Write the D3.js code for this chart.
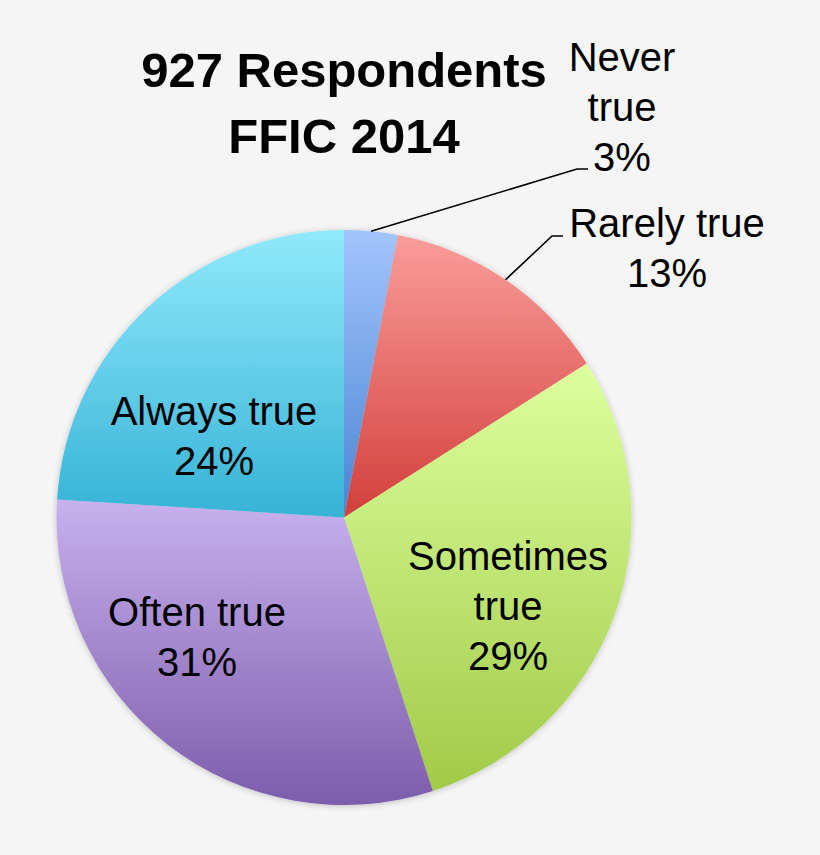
<!DOCTYPE html>
<html>
<head>
<meta charset="utf-8">
<script src="https://cdn.jsdelivr.net/npm/d3@7"></script>
<style>
  html, body { margin: 0; padding: 0; background: #f5f5f5; }
  svg { display: block; }
  text { font-family: "Liberation Sans", Arial, sans-serif; fill: #000; }
</style>
</head>
<body>
<div id="chart"></div>
<script>
// -------- data ---------- //
var categories = ["Never true", "Rarely true", "Sometimes true", "Often true", "Always true"];
var values = [3, 13, 29, 31, 24];
var topColors = ["#a2c5fc", "#fa9d9b", "#ddff9e", "#c7b1ee", "#91e9fc"];
var bottomColors = ["#4a84d4", "#d23f3b", "#a1ca48", "#7d5cab", "#36b3d6"];

// label lines (split category text) and their placement
var labelLines = [["Never", "true"], ["Rarely true"], ["Sometimes", "true"], ["Often true"], ["Always true"]];
var labelPos = [
  { x: 622, y: 71, outside: true, elbowX: 577, elbowY: 169, endX: 588 },
  { x: 667, y: 237, outside: true, elbowX: 552, elbowY: 236, endX: 563 },
  { x: 508, y: 570 },
  { x: 197, y: 626 },
  { x: 214, y: 425 }
];

var width = 820;
var height = 855;
var cx = 344, cy = 517.5, radius = 287.5;
var lineH = 50;

var svg = d3
  .select("#chart")
  .append("svg")
  .attr("width", width)
  .attr("height", height);

svg.append("rect").attr("width", width).attr("height", height).attr("fill", "#f5f5f5");

var defs = svg.append("defs");

var shadow = defs.append("filter")
  .attr("id", "shadow")
  .attr("x", "-10%").attr("y", "-10%")
  .attr("width", "120%").attr("height", "120%");
shadow.append("feDropShadow")
  .attr("dx", 0).attr("dy", 1)
  .attr("stdDeviation", 3)
  .attr("flood-color", "#000")
  .attr("flood-opacity", 0.22);

// vertical gradient per slice
categories.forEach(function(c, i) {
  var g = defs.append("linearGradient")
    .attr("id", "grad" + i)
    .attr("x1", 0).attr("y1", 0).attr("x2", 0).attr("y2", 1);
  g.append("stop").attr("offset", "0%").attr("stop-color", topColors[i]);
  g.append("stop").attr("offset", "100%").attr("stop-color", bottomColors[i]);
});

var data = categories.map(function(c, i) {
  return { name: c, value: values[i], i: i };
});

var pie = d3.pie().sort(null).value(function(d) { return d.value; });
var arcs = pie(data);

var arc = d3.arc().innerRadius(0).outerRadius(radius);

var g = svg.append("g").attr("transform", "translate(" + cx + "," + cy + ")");

g.append("g")
  .attr("filter", "url(#shadow)")
  .selectAll("path")
  .data(arcs)
  .join("path")
  .attr("fill", function(d) { return "url(#grad" + d.data.i + ")"; })
  .attr("d", arc);

// leader lines for the small slices
arcs.forEach(function(d, i) {
  var p = labelPos[i];
  if (!p.outside) return;
  var mid = (d.startAngle + d.endAngle) / 2;
  var sx = cx + radius * Math.sin(mid);
  var sy = cy - radius * Math.cos(mid);
  svg.append("polyline")
    .attr("points", [[sx, sy], [p.elbowX, p.elbowY], [p.endX, p.elbowY]].map(function(q) { return q.join(","); }).join(" "))
    .attr("fill", "none")
    .attr("stroke", "#000")
    .attr("stroke-width", 1.6);
});

// slice labels
arcs.forEach(function(d, i) {
  var p = labelPos[i];
  var lines = labelLines[i].concat([d3.format(".0f")(d.data.value) + "%"]);
  var t = svg.append("text")
    .attr("text-anchor", "middle")
    .attr("font-size", 40);
  lines.forEach(function(l, k) {
    t.append("tspan").attr("x", p.x).attr("y", p.y + k * lineH).text(l);
  });
});

// title
var title = svg.append("text")
  .attr("text-anchor", "middle")
  .attr("font-size", 49)
  .attr("font-weight", "bold");
title.append("tspan").attr("x", 344).attr("y", 87).text("927 Respondents");
title.append("tspan").attr("x", 344).attr("y", 153).text("FFIC 2014");
</script>
</body>
</html>
